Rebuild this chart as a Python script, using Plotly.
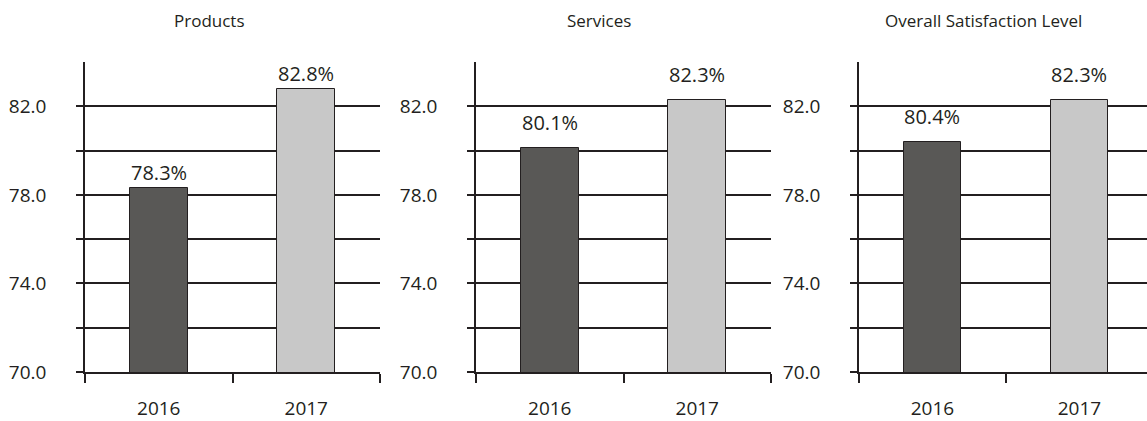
import plotly.graph_objects as go

years = ["2016", "2017"]
panel_titles = ["Products", "Services", "Overall Satisfaction Level"]
products = [78.3, 82.8]
services = [80.1, 82.3]
overall = [80.4, 82.3]
y_tickvals = [70, 72, 74, 76, 78, 80, 82]
y_ticktext = ["70.0", "", "74.0", "", "78.0", "", "82.0"]

series = [products, services, overall]

W, H = 1147, 421
INK = "#231f20"
FONT = "Open Sans"
bar_colors = ["#595856", "#c8c8c8"]

# pixel layout
x_doms = [(85, 380), (476, 771), (859, 1147)]
x_ranges = [[-0.5, 1.5], [-0.5, 1.5], [-0.5, 1.46]]
y_top, y_bot = 62, 372
title_cx = [209, 599, 983]
label_shift = [0, 10, 10]

fig = go.Figure()
for i, vals in enumerate(series):
    n = "" if i == 0 else str(i + 1)
    fig.add_trace(go.Bar(
        x=years, y=vals, width=0.39,
        marker=dict(color=bar_colors, line=dict(color=INK, width=1)),
        xaxis="x" + n, yaxis="y" + n, showlegend=False, hoverinfo="skip",
    ))
    for j, yv in enumerate(vals):
        fig.add_annotation(
            x=j, y=yv, xref="x" + n, yref="y" + n,
            text=f"{yv:.1f}%", showarrow=False, yanchor="bottom",
            yshift=label_shift[i], font=dict(family=FONT, size=20, color=INK),
        )
    fig.add_annotation(
        x=title_cx[i] / W, y=1 - 20 / H, xref="paper", yref="paper",
        text=panel_titles[i], showarrow=False, xanchor="center", yanchor="middle",
        font=dict(family=FONT, size=17, color=INK),
    )
    d0, d1 = x_doms[i]
    fig.update_layout(**{
        "xaxis" + n: dict(
            domain=[d0 / W, d1 / W], range=x_ranges[i], type="category",
            showline=True, linecolor=INK, linewidth=1.5,
            ticks="outside", tickson="boundaries", ticklen=9, tickwidth=1.5,
            tickcolor=INK, showgrid=False, zeroline=False,
            tickfont=dict(family=FONT, size=19, color=INK),
            ticklabelstandoff=18, anchor="y" + n, fixedrange=True,
            automargin=False,
        ),
        "yaxis" + n: dict(
            domain=[1 - y_bot / H, 1 - y_top / H], range=[70, 84],
            showline=True, linecolor=INK, linewidth=1.5,
            ticks="outside", ticklen=7, tickwidth=1.5, tickcolor=INK,
            tickvals=y_tickvals, ticktext=y_ticktext,
            showgrid=True, gridcolor=INK, gridwidth=1.5, zeroline=False,
            tickfont=dict(family=FONT, size=19, color=INK),
            ticklabelstandoff=26, anchor="x" + n, fixedrange=True,
            automargin=False,
        ),
    })

fig.update_layout(
    width=W, height=H, margin=dict(l=0, r=0, t=0, b=0, autoexpand=False),
    paper_bgcolor="white", plot_bgcolor="white",
    font=dict(family=FONT, color=INK), bargap=0,
)
fig.write_html("out.html", config={"displayModeBar": False})
